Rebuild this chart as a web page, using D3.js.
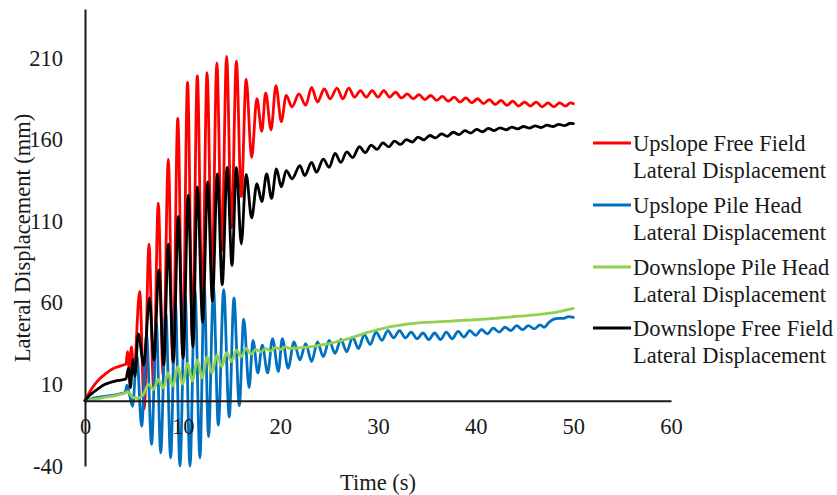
<!DOCTYPE html>
<html>
<head>
<meta charset="utf-8">
<script src="https://cdn.jsdelivr.net/npm/d3@7"></script>
<style>
  html, body { margin: 0; padding: 0; background: #fff; }
  text { font-family: "Liberation Serif", "Times New Roman", serif; fill: #1a1a1a; }
</style>
</head>
<body>
<svg id="chart" width="837" height="495"></svg>
<script>
// ---------- DATA ----------
const xTicks = [0, 10, 20, 30, 40, 50, 60];
const yTicks = [-40, 10, 60, 110, 160, 210];

const seriesNames = [
  ["Upslope Free Field", "Lateral Displacement"],
  ["Upslope Pile Head", "Lateral Displacement"],
  ["Downslope Pile Head", "Lateral Displacement"],
  ["Downslope Free Field", "Lateral Displacement"]
];
const seriesColors = ["#FF0000", "#0070C0", "#92D050", "#000000"];

// [time (s), displacement (mm)]
const upslopeFreeField = [[0,0],[0.5,5.5],[1,10],[1.5,13.5],[2,16],[2.5,18.3],[3,20],[3.5,21],[4,22],[4.2,22.5],[4.35,30],[4.55,18],[4.75,33],[5.0,17],[5.6,67],[6.07,-5],[6.55,96],[7.02,8],[7.5,121],[8.0,15],[8.53,148],[9.0,22],[9.5,173],[10.0,28],[10.5,195],[11.0,38],[11.5,199],[12.0,58],[12.5,201],[13.0,75],[13.5,207],[14.0,92],[14.5,211],[15.0,106],[15.5,208],[16.0,125],[16.5,197],[17.06,149],[17.6,185],[18.1,165],[18.5,188.6],[19.05,166],[19.55,193],[20.1,171],[20.6,187],[21.2,180],[21.9,188],[22.6,181],[23.2,192],[23.8,183],[24.5,191],[25.1,185],[25.8,191.5],[26.4,185],[27.0,191.5],[27.6,186],[28.2,190],[28.8,186],[29.4,190],[30.0,186],[30.6,190],[31.2,186],[31.8,189],[32.4,185.5],[33.0,188],[33.6,185],[34.2,187.5],[34.8,184.5],[35.4,187],[36.0,184],[36.6,186.5],[37.2,183.5],[37.8,186],[38.4,183],[39.0,185.5],[39.6,182.5],[40.2,185],[40.8,182],[41.4,184.5],[42.0,181.5],[42.6,184],[43.2,181],[43.8,183.5],[44.4,180.5],[45.0,183],[45.6,180.5],[46.2,183],[46.8,180],[47.4,182.5],[48.0,180],[48.6,182.5],[49.2,180.5],[49.7,182.5],[50,182]];

const upslopePileHead = [[0,0],[0.5,0.8],[1,1.7],[2,2.7],[3,3.4],[3.8,4.5],[4.1,5],[4.3,9.5],[4.55,4],[4.88,-3.4],[5.3,28],[5.8,-15.6],[6.3,40],[6.82,-26.8],[7.3,48],[7.75,-31.9],[8.27,54],[8.77,-35],[9.25,60],[9.72,-40],[10.25,65],[10.75,-40],[11.25,68],[11.77,-35],[12.2,70],[12.65,-22],[13.15,69],[13.65,-15],[14.2,68],[14.77,-10],[15.25,63],[15.8,-3],[16.25,50],[16.8,8],[17.2,37],[17.7,17],[18.15,34],[18.7,17],[19.2,38],[19.8,18],[20.2,38],[20.8,20],[21.4,36],[22.0,25],[22.6,35],[23.2,24],[23.8,36],[24.4,27],[25.0,37],[25.6,29],[26.2,37.5],[26.8,30],[27.4,39],[28.0,32],[28.6,40.5],[29.2,34.5],[29.8,42],[30.4,37],[31.0,43],[31.6,38.5],[32.2,43],[32.8,38.5],[33.4,42],[34.0,38],[34.6,41.5],[35.2,37.5],[35.8,41.5],[36.4,37.5],[37.0,42],[37.6,38],[38.2,42.5],[38.8,39],[39.4,43],[40.0,40],[40.6,43.5],[41.2,41],[41.8,44.5],[42.4,42],[43.0,45],[43.6,43],[44.2,46],[44.8,43.5],[45.4,46],[46.0,44],[46.6,46.5],[47.0,45],[47.5,48],[48.0,50],[48.5,50.5],[49.0,50.5],[49.5,51.5],[50,51]];

const downslopePileHead = [[0,0],[1,1],[2,2],[3,3],[4,4.5],[4.4,5.5],[4.9,2],[5.4,1.5],[6.0,4],[6.5,10],[7.0,6.8],[7.5,13],[8.0,7.8],[8.5,17],[9.0,9],[9.5,21],[10.0,10],[10.5,23],[11.0,12],[11.5,25],[12.0,14],[12.5,27],[13.0,17],[13.5,28],[14.0,21],[14.5,29.5],[15.0,24],[15.5,31],[16.0,27],[16.5,32],[17.0,28.5],[17.5,31.5],[18.0,30],[18.5,32],[19.0,30.5],[19.5,32.5],[20.0,31.5],[20.5,33],[21,32],[22,32.5],[23,33],[24,34],[25,35],[26,36.5],[27,38],[28,40],[29,42],[30,43.5],[31,45],[32,46],[33,47],[34,47.6],[35,48],[36,48.3],[37,48.6],[38,49],[39,49.3],[40,49.6],[41,50],[42,50.5],[43,51],[44,51.6],[45,52],[46,52.6],[47,53.2],[48,54],[49,55.2],[50,56.5]];

const downslopeFreeField = [[0,0],[0.5,3.5],[1,5.8],[1.5,8],[2,9.9],[2.5,11],[3,11.9],[3.5,12.5],[4,13],[4.2,13.5],[4.45,20],[4.65,8],[4.9,25],[5.1,15],[5.46,41],[6.02,22],[6.6,63],[7.05,25],[7.57,80],[8.05,22],[8.53,96],[9.05,24],[9.55,113],[10.05,26],[10.57,126],[11.05,33],[11.5,131],[12.05,48],[12.56,134],[13.05,61],[13.55,139],[14.05,71],[14.56,143],[15.05,83],[15.5,143],[16.0,96],[16.5,138.6],[17.06,112],[17.6,133],[18.1,122],[18.6,139],[19.1,124],[19.6,142],[20.1,131],[20.6,141],[21.2,136],[22.0,144],[22.5,138],[23.2,146],[23.7,140],[24.4,148],[25.0,143],[25.6,151.5],[26.2,146],[26.8,152.5],[27.4,149],[28.1,155.6],[28.7,152],[29.3,156.6],[29.9,154],[30.5,158],[31.1,155.5],[31.7,159],[32.3,157],[32.9,160],[33.5,158.5],[34.1,161.5],[34.7,159.8],[35.3,162.5],[35.9,161],[36.5,163.5],[37.1,162],[37.7,164.5],[38.3,163],[38.9,165.5],[39.5,164],[40.1,166.2],[40.7,164.8],[41.3,166.8],[41.9,165.5],[42.5,167.2],[43.1,166],[43.7,167.6],[44.3,166.5],[44.9,168],[45.5,167],[46.1,168.4],[46.7,167.4],[47.3,168.8],[47.9,168],[48.5,169.3],[49.1,168.5],[49.7,170],[50,169.8]];

const allSeries = [upslopeFreeField, upslopePileHead, downslopePileHead, downslopeFreeField];

// ---------- CHART ----------
const svg = d3.select("#chart");
const FS = 22.5;
const plainNum = d => String(d);   // keeps ASCII hyphen for negatives, like the reference

const x = d3.scaleLinear().domain([0, 60]).range([85, 671]);
const y = d3.scaleLinear().domain([-40, 240]).range([466, 9]);

// series lines (drawn in legend order, later on top)
const line = d3.line().x(d => x(d[0])).y(d => y(d[1])).curve(d3.curveMonotoneX);
svg.append("g").selectAll("path")
  .data(allSeries)
  .join("path")
  .attr("d", line)
  .attr("fill", "none")
  .attr("stroke", (d, i) => seriesColors[i])
  .attr("stroke-width", 2.8)
  .attr("stroke-linejoin", "round")
  .attr("stroke-linecap", "round");

// y axis
const yAxis = svg.append("g")
  .attr("transform", `translate(${x(0)},0)`)
  .call(d3.axisLeft(y).tickValues(yTicks).tickSize(0).tickSizeOuter(0).tickPadding(22).tickFormat(plainNum));
yAxis.select(".domain").attr("stroke", "#1a1a1a").attr("stroke-width", 2);
yAxis.selectAll("text").attr("font-size", FS).attr("font-family", "Liberation Serif").attr("fill", "#1a1a1a");

// x axis at y = 0
const xAxis = svg.append("g")
  .attr("transform", `translate(0,${y(0)})`)
  .call(d3.axisBottom(x).tickValues(xTicks).tickSize(0).tickSizeOuter(0).tickPadding(17).tickFormat(plainNum));
xAxis.select(".domain").attr("stroke", "#1a1a1a").attr("stroke-width", 2);
xAxis.selectAll("text").attr("font-size", FS).attr("font-family", "Liberation Serif").attr("fill", "#1a1a1a");

// axis titles
svg.append("text")
  .attr("x", 378).attr("y", 490)
  .attr("text-anchor", "middle")
  .attr("font-size", FS)
  .text("Time (s)");

svg.append("text")
  .attr("transform", "translate(30,238) rotate(-90)")
  .attr("text-anchor", "middle")
  .attr("font-size", FS)
  .text("Lateral Displacement (mm)");

// legend
const legendY = [143, 205, 267, 328];
const lg = svg.append("g");
seriesNames.forEach((names, i) => {
  const g = lg.append("g").attr("transform", `translate(0,${legendY[i]})`);
  g.append("line").attr("x1", 593).attr("x2", 631).attr("y1", 0).attr("y2", 0)
    .attr("stroke", seriesColors[i]).attr("stroke-width", 2.8);
  g.append("text").attr("x", 633).attr("y", 7.5).attr("font-size", FS).text(names[0]);
  g.append("text").attr("x", 633).attr("y", 34.5).attr("font-size", FS).text(names[1]);
});
</script>
</body>
</html>
